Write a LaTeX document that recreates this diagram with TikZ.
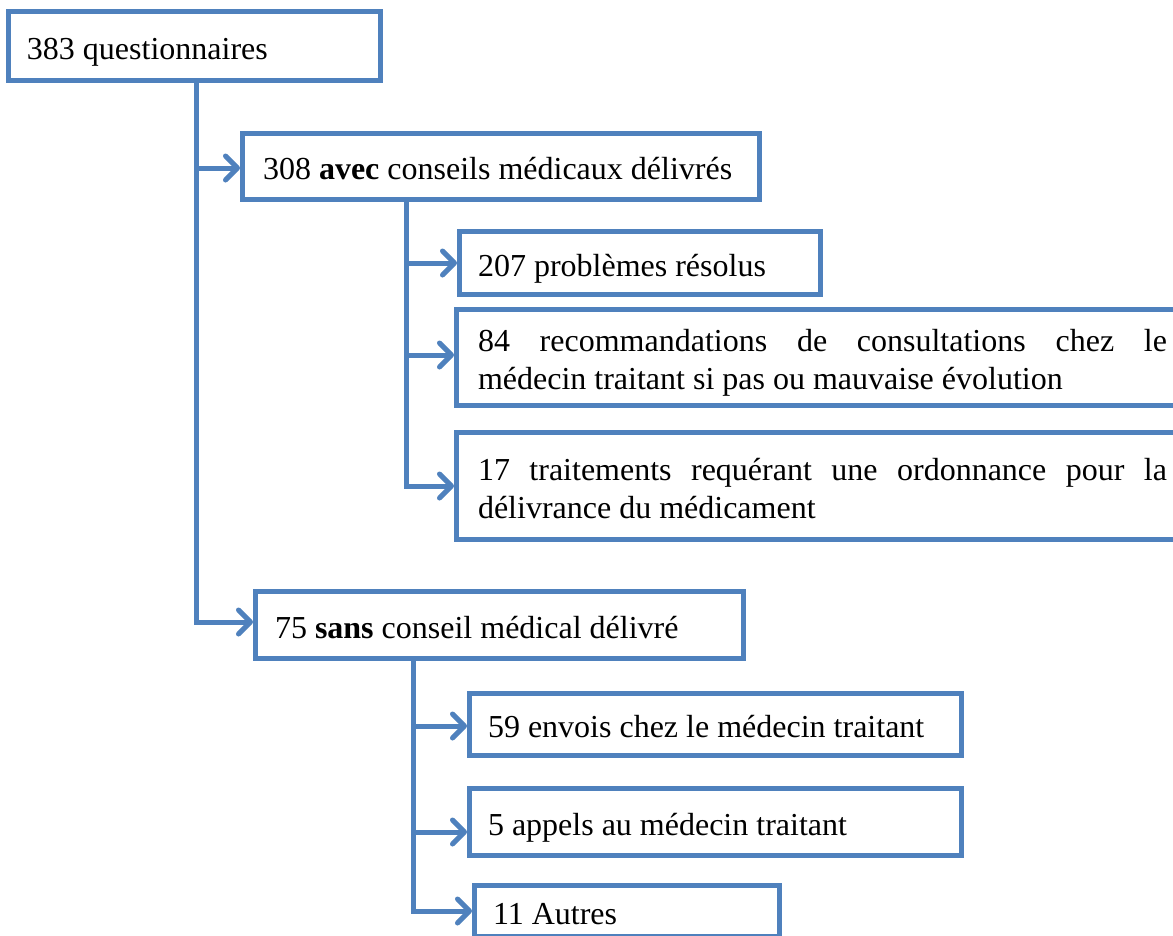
\documentclass[tikz,border=0pt]{standalone}
\usepackage{fontspec}
\setmainfont{Liberation Serif}
\usetikzlibrary{arrows.meta}
\definecolor{mblue}{HTML}{4F81BD}
\tikzset{
  box/.style={draw=mblue, fill=white, line width=5pt, outer sep=2.5pt,
    anchor=north west, inner ysep=0pt, align=left,
    font=\fontsize{32}{38}\selectfont,
    execute at begin node={\spaceskip=0pt\xspaceskip=0pt\relax\rule{0pt}{34pt}},
    execute at end node={\rule[-8pt]{0pt}{8pt}}},
  jbox/.style={box, align=justify},
  conn/.style={draw=mblue, line width=5pt, line join=miter,
    -{Straight Barb[length=12pt,width=24pt,line width=5pt,round]}},
}
\begin{document}
\begin{tikzpicture}[x=1pt,y=1pt]
\useasboundingbox (0,0) rectangle (1173,-935);
\clip (0,0) rectangle (1173,-935);
\fill[white] (0,0) rectangle (1173,-935);

\node[box, inner xsep=18.5pt, text width=335pt, minimum height=69pt] (q) at (6,-9) {383 questionnaires};
\node[box, inner xsep=20.5pt, text width=476pt, minimum height=66pt] (avec) at (240,-131) {308 \textbf{avec} conseils médicaux délivrés};
\node[box, inner xsep=18.5pt, text width=324pt, minimum height=63pt] (p207) at (457,-229) {207 problèmes résolus};
\node[jbox, inner xsep=21.5pt, text width=689pt, minimum height=96pt] (p84) at (454,-307) {84 recommandations de consultations chez le\linebreak médecin traitant si pas ou mauvaise évolution};
\node[jbox, inner xsep=21.5pt, text width=689pt, minimum height=107pt] (p17) at (454,-430) {17 traitements requérant une ordonnance pour la\linebreak délivrance du médicament};
\node[box, inner xsep=19.5pt, text width=449pt, minimum height=67pt] (sans) at (253,-589) {75 \textbf{sans} conseil médical délivré};
\node[box, inner xsep=18.5pt, text width=455pt, minimum height=62pt] (p59) at (467,-691) {59 envois chez le médecin traitant};
\node[box, inner xsep=18.5pt, text width=455pt, minimum height=67pt] (p5) at (467,-786) {5 appels au médecin traitant};
\node[box, inner xsep=18.5pt, text width=268pt, minimum height=51pt] (p11) at (472,-883) {11 Autres};

\coordinate (t1) at (196,-83);
\coordinate (t2) at (406,-202);
\coordinate (t3) at (413,-661);

\draw[conn] (t1) |- ([yshift=-1.5pt]avec.west);
\draw[conn] (t1) |- ([yshift=3pt]sans.west);
\draw[conn] (t2) |- (p207.west);
\draw[conn] (t2) |- ([yshift=2.5pt]p84.west);
\draw[conn] (t2) |- (p17.west);
\draw[conn] (t3) |- ([yshift=-1.5pt]p59.west);
\draw[conn] (t3) |- ([yshift=-10pt]p5.west);
\draw[conn] (t3) |- (p11.west);
\end{tikzpicture}
\end{document}
